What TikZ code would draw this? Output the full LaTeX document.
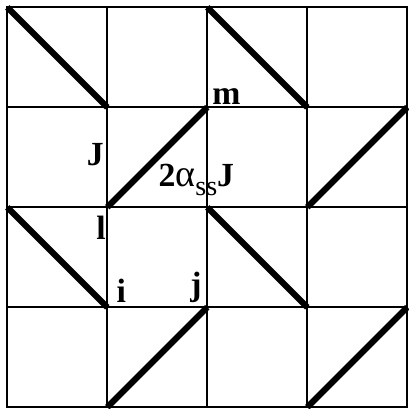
\documentclass[tikz,border=0pt]{standalone}
\usepackage{fontspec}
\setmainfont{Liberation Serif}
\begin{document}
\begin{tikzpicture}[
    x=2.5cm,
    y=2.5cm,
    grid line/.style={line width=1.6pt, line cap=rect},
    bond/.style={line width=4.4pt},
    site label/.style={inner sep=0pt, font=\fontsize{24}{26}\selectfont\bfseries}
]

\useasboundingbox (-0.073,-0.017) rectangle (4.017,4.073);

% Lattice sites
\foreach \x in {0,...,4} {
    \foreach \y in {0,...,4} {
        \coordinate (s\x\y) at (\x,\y);
    }
}

% Grid
\foreach \k in {0,...,4} {
    \draw[grid line] (s\k0) -- (s\k4);
    \draw[grid line] (s0\k) -- (s4\k);
}

% Bonds
\foreach \a/\b in {04/13, 24/33, 12/23, 32/43, 02/11, 22/31, 10/21, 30/41} {
    \draw[bond] (s\a) -- (s\b);
}

% Labels
\node[site label] (m) at (2.19,3.106) {m};
\node[site label] (J) at (0.88,2.523) {J};
\node[site label, anchor=base west] (coupling) at (1.51,2.203)
    {2{\mdseries\fontsize{27}{28}\selectfont α\raisebox{-6pt}{\fontsize{20}{21}\selectfont ss}}J};
\node[site label, anchor=base] (l) at (0.937,1.673) {l};
\node[site label, anchor=south] (i) at (1.14,1.043) {i};
\node[site label, anchor=south] (j) at (1.887,1.043) {j};

\end{tikzpicture}
\end{document}
